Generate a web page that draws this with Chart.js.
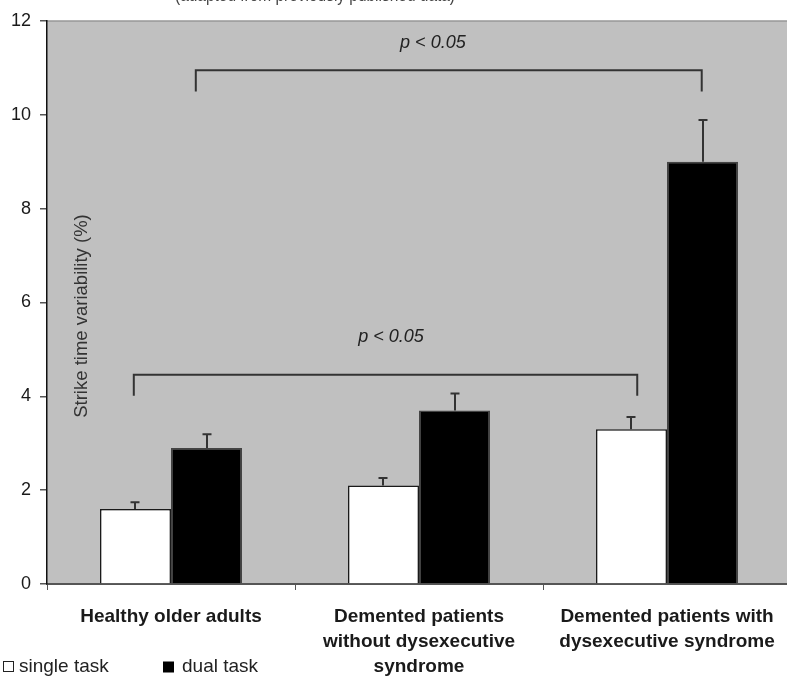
<!DOCTYPE html>
<html><head><meta charset="utf-8">
<script src="https://cdn.jsdelivr.net/npm/chart.js@4.4.1/dist/chart.umd.min.js"></script>
<style>
html,body{margin:0;padding:0;background:#fff;overflow:hidden;}
#wrap{position:relative;width:800px;height:678px;}
</style></head><body>
<div id="wrap"><canvas id="c"></canvas></div>
<script>
const categories = [["Healthy older adults"], ["Demented patients", "without dysexecutive", "syndrome"], ["Demented patients with", "dysexecutive syndrome"]];
const seriesNames = ["single task", "dual task"];
const singleTask = [1.6, 2.1, 3.3];
const singleTaskErr = [0.14, 0.16, 0.26];
const dualTask = [2.9, 3.7, 9.0];
const dualTaskErr = [0.29, 0.36, 0.89];
const yTicks = [0, 2, 4, 6, 8, 10, 12];
const yTitle = "Strike time variability (%)";
const topNote = "(adapted from previously published data)";
const sigLabels = ["p < 0.05", "p < 0.05"];

const FONT = "'Liberation Sans', Arial, Helvetica, sans-serif";
// annotation geometry (category index units / value units)
const brackets = [
  { from: -0.15, to: 1.88, level: 4.46, legEnd: 4.01, textX: 0.887, textY: 5.27 },
  { from: 0.10, to: 2.14, level: 10.95, legEnd: 10.5, textX: 1.056, textY: 11.53 }
];

const bgPlugin = {
  id: 'bg',
  beforeDraw(chart) {
    const { ctx, chartArea: a } = chart;
    ctx.save();
    ctx.fillStyle = '#c0c0c0';
    ctx.fillRect(a.left, a.top, a.right - a.left, a.bottom - a.top);
    ctx.strokeStyle = '#979797';
    ctx.lineWidth = 1.5;
    ctx.beginPath(); ctx.moveTo(a.left, a.top); ctx.lineTo(a.right, a.top); ctx.stroke();
    ctx.restore();
  }
};

const errPlugin = {
  id: 'err',
  afterDatasetsDraw(chart) {
    const { ctx } = chart;
    const y = chart.scales.y;
    ctx.save();
    ctx.strokeStyle = '#333';
    ctx.lineWidth = 2;
    chart.data.datasets.forEach((ds, d) => {
      const meta = chart.getDatasetMeta(d);
      meta.data.forEach((bar, i) => {
        const v = ds.data[i], e = ds.err[i];
        const x = Math.round(bar.x);
        const y0 = y.getPixelForValue(v), y1 = y.getPixelForValue(v + e);
        ctx.beginPath();
        ctx.moveTo(x, y0); ctx.lineTo(x, y1);
        ctx.moveTo(x - 4.5, y1); ctx.lineTo(x + 4.5, y1);
        ctx.stroke();
      });
    });
    ctx.restore();
  }
};

const annPlugin = {
  id: 'ann',
  afterDraw(chart) {
    const { ctx, chartArea: a } = chart;
    const xs = chart.scales.x, ys = chart.scales.y;
    ctx.save();
    // brackets
    ctx.strokeStyle = '#333';
    ctx.lineWidth = 2;
    brackets.forEach((b, k) => {
      const x0 = xs.getPixelForValue(b.from), x1 = xs.getPixelForValue(b.to);
      const yl = ys.getPixelForValue(b.level), ye = ys.getPixelForValue(b.legEnd);
      ctx.beginPath();
      ctx.moveTo(x0, ye); ctx.lineTo(x0, yl); ctx.lineTo(x1, yl); ctx.lineTo(x1, ye);
      ctx.stroke();
      ctx.fillStyle = '#222';
      ctx.font = 'italic 18px ' + FONT;
      ctx.textAlign = 'center'; ctx.textBaseline = 'middle';
      ctx.fillText(sigLabels[k], xs.getPixelForValue(b.textX), ys.getPixelForValue(b.textY));
    });
    // y title inside plot
    ctx.save();
    ctx.translate(a.left + 35, 316);
    ctx.rotate(-Math.PI / 2);
    ctx.fillStyle = '#333';
    ctx.font = '18.5px ' + FONT;
    ctx.textAlign = 'center'; ctx.textBaseline = 'middle';
    ctx.fillText(yTitle, 0, 0);
    ctx.restore();
    // cut-off note at top
    ctx.fillStyle = '#444';
    ctx.font = '18px ' + FONT;
    ctx.textAlign = 'center'; ctx.textBaseline = 'alphabetic';
    ctx.fillText(topNote, 315, 1, 280);
    // legend
    const ly = 667;
    ctx.font = '19px ' + FONT;
    ctx.textAlign = 'left'; ctx.textBaseline = 'middle';
    ctx.lineWidth = 1;
    ctx.fillStyle = '#fff'; ctx.strokeStyle = '#222';
    ctx.fillRect(3.5, ly - 5.5, 10, 10); ctx.strokeRect(3.5, ly - 5.5, 10, 10);
    ctx.fillStyle = '#222';
    ctx.fillText(seriesNames[0], 19, ly);
    ctx.fillStyle = '#000';
    ctx.fillRect(163, ly - 5.5, 11, 11);
    ctx.fillStyle = '#222';
    ctx.fillText(seriesNames[1], 182, ly);
    ctx.restore();
  }
};

new Chart(document.getElementById('c'), {
  type: 'bar',
  data: {
    labels: categories,
    datasets: [
      { label: seriesNames[0], data: singleTask, err: singleTaskErr, backgroundColor: '#ffffff', borderColor: '#1a1a1a', borderWidth: 1.5, categoryPercentage: 0.5726, barPercentage: 1 },
      { label: seriesNames[1], data: dualTask, err: dualTaskErr, backgroundColor: '#000000', borderColor: '#444444', borderWidth: 1.5, categoryPercentage: 0.5726, barPercentage: 1 }
    ]
  },
  options: {
    responsive: true, maintainAspectRatio: false, animation: false,
    layout: { padding: { left: 0, right: 9, top: 21, bottom: 0 } },
    plugins: { legend: { display: false }, tooltip: { enabled: false } },
    scales: {
      x: {
        grid: { display: true, drawOnChartArea: false, drawTicks: true, tickLength: 6, offset: true, color: '#555', lineWidth: 1 },
        border: { display: true, color: '#555', width: 2 },
        ticks: { autoSkip: false, maxRotation: 0, minRotation: 0, padding: 14, color: '#1a1a1a', font: { family: FONT, size: 19, weight: 'bold', lineHeight: '25px' } },
        afterFit(s) { s.height = 94; }
      },
      y: {
        min: 0, max: 12,
        grid: { drawOnChartArea: false, drawTicks: true, tickLength: 7, color: '#555', lineWidth: 1.5 },
        border: { display: true, color: '#111', width: 1.5 },
        ticks: { padding: 9, color: '#1a1a1a', font: { family: FONT, size: 18 } },
        afterBuildTicks(s) { s.ticks = yTicks.map(v => ({ value: v })); },
        afterFit(s) { s.width = 47; }
      }
    }
  },
  plugins: [bgPlugin, errPlugin, annPlugin]
});
</script>
</body></html>
